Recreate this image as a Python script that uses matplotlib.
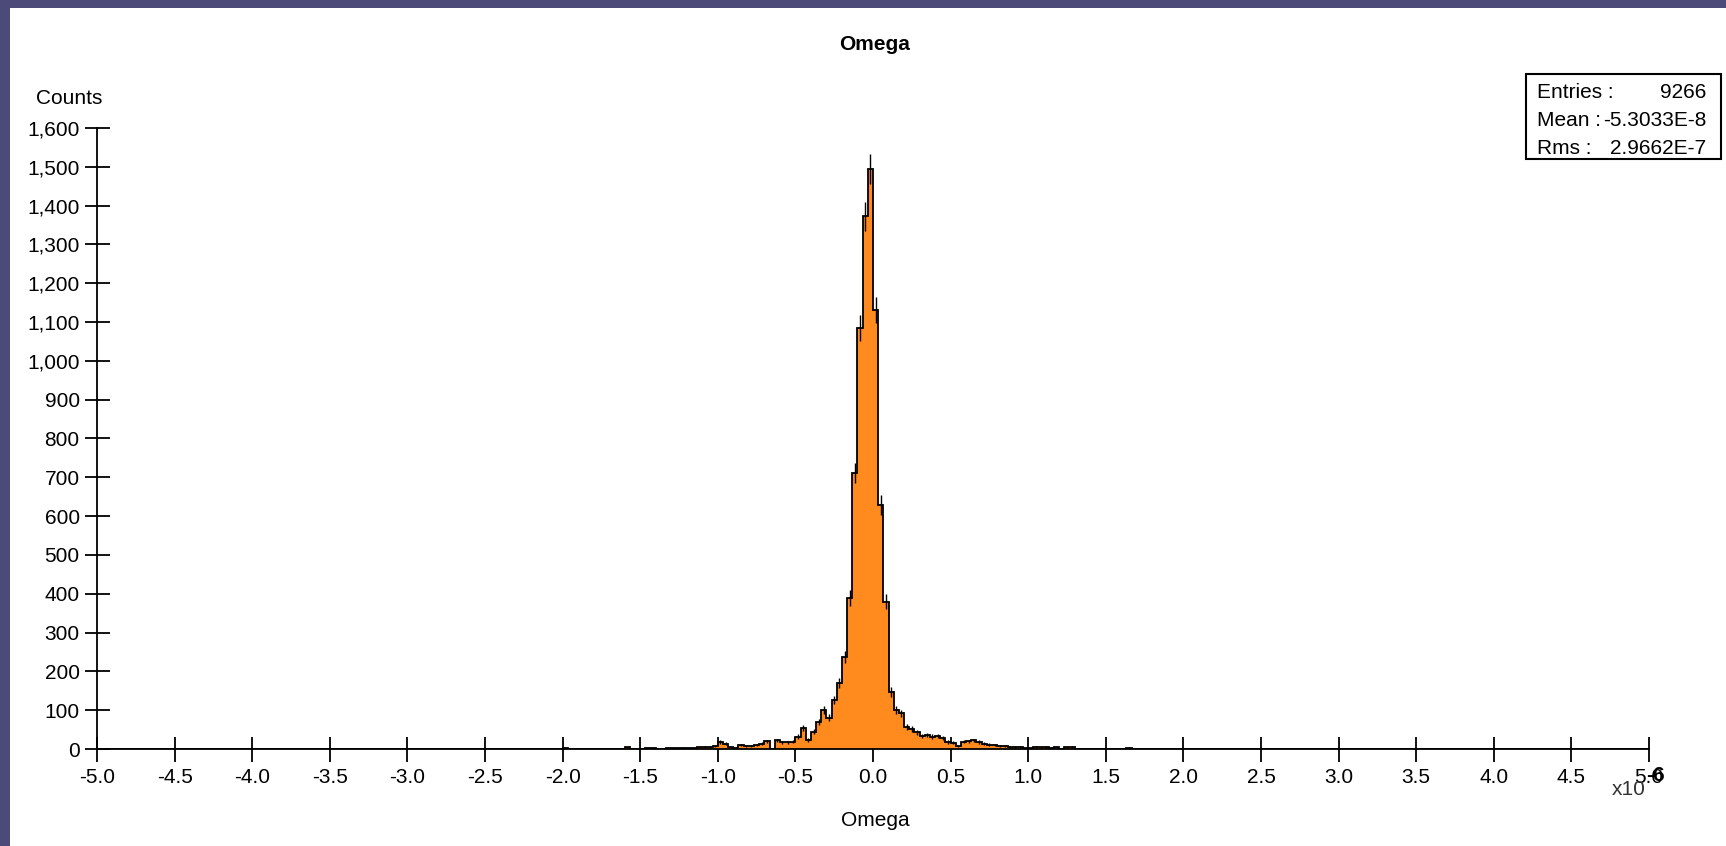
import numpy as np
import matplotlib
matplotlib.use("Agg")
import matplotlib.pyplot as plt
from matplotlib.patches import Rectangle
from matplotlib.ticker import FuncFormatter, MultipleLocator

plt.rcParams['font.family'] = ['Liberation Sans', 'DejaVu Sans']

# histogram binning (units of 1e-6): 300 bins over [-5, 5]
n_bins = 300
x_lo, x_hi = -5.0, 5.0
first_bin = 90   # index of first bin listed in `counts`

# bin contents from bin 90 (-2.0) up to bin 199 (~1.65)
counts = [
    2, 0, 0, 0, 0, 0, 0, 0, 0, 0, 0, 1,             # -2.00 .. -1.63
    4, 0, 1, 0, 3, 2, 0, 1, 2, 2, 2, 3, 2, 3,       # -1.60 .. -1.17
    4, 5, 6, 8, 18, 14, 4, 3, 10, 8, 8, 10, 14, 20, # -1.13 .. -0.70
    1, 22, 17, 17, 19, 32, 54, 23, 45, 70, 100, 80, # -0.67 .. -0.30
    126, 170, 237, 389, 711, 1085, 1372, 1494,      # -0.27 .. -0.03
    1131, 629, 379, 147, 100, 92, 57, 52, 43, 34,   #  0.00 ..  0.30
    36, 32, 34, 28, 18, 16, 8, 19, 20, 22, 18, 14,  #  0.33 ..  0.70
    11, 10, 8, 8, 6, 5, 5, 3, 2, 5, 4, 5, 3, 4,     #  0.73 ..  1.17
    1, 4, 5, 1, 0, 0, 0, 0, 0, 0, 0, 0, 0, 3,       #  1.20 ..  1.63
]

stats_labels = ["Entries :", "Mean :", "Rms :"]
stats_values = ["9266", "-5.3033E-8", "2.9662E-7"]

x_ticks_step = 0.5
y_ticks_step = 100
y_max = 1600

# full histogram array
edges = np.linspace(x_lo, x_hi, n_bins + 1)
h = np.zeros(n_bins)
h[first_bin:first_bin + len(counts)] = counts
centers = 0.5 * (edges[:-1] + edges[1:])

W, H = 1726, 846
fs = 15
fig = plt.figure(figsize=(W / 100, H / 100), dpi=100)
fig.patch.set_facecolor('#4b4a78')

# white plot panel, kept behind the axes
fig.patches.append(Rectangle((10 / W, 0), 1 - 10 / W, (H - 8) / H,
                             transform=fig.transFigure, facecolor='white',
                             edgecolor='none', zorder=-5))

ax = fig.add_axes([97 / W, (H - 749) / H, (1649 - 97) / W, (749 - 128) / H])
ax.set_facecolor('none')
ax.set_zorder(2)

orange = '#ff8b1e'
ax.stairs(h, edges, fill=True, color=orange, zorder=2)
ax.stairs(h, edges, color='black', lw=1.3, zorder=3)

# statistical error bars on filled bins
nz = h > 0
ax.errorbar(centers[nz], h[nz], yerr=np.sqrt(h[nz]), fmt='none',
            ecolor='black', elinewidth=1.0, zorder=4)

ax.set_xlim(x_lo, x_hi)
ax.set_ylim(0, y_max)

for s in ['top', 'right']:
    ax.spines[s].set_visible(False)
for s in ['left', 'bottom']:
    ax.spines[s].set_linewidth(1.3)
    ax.spines[s].set_zorder(5)

ax.xaxis.set_major_locator(MultipleLocator(x_ticks_step))
ax.yaxis.set_major_locator(MultipleLocator(y_ticks_step))
ax.xaxis.set_major_formatter(FuncFormatter(lambda v, p: f"{v:.1f}"))
ax.yaxis.set_major_formatter(FuncFormatter(lambda v, p: f"{int(round(v)):,}"))
ax.tick_params(axis='both', direction='inout', length=18, width=1.3,
               labelsize=fs, colors='black')
ax.tick_params(axis='y', pad=3.5)
ax.tick_params(axis='x', pad=5)

# titles and axis labels
fig.text(875 / W, 1 - 44 / H, "Omega", ha='center', va='center',
         fontsize=fs, fontweight='bold')
fig.text(875 / W, 1 - 820 / H, "Omega", ha='center', va='center', fontsize=fs)
fig.text(36 / W, 1 - 98 / H, "Counts", ha='left', va='center', fontsize=fs)

# exponent marker at the end of the x axis
fig.text(1612 / W, 1 - 789 / H, "x10", ha='left', va='center',
         fontsize=fs, color='#333333')
fig.text(1646 / W, 1 - 775 / H, "-6", ha='left', va='center',
         fontsize=fs, fontweight='bold')

# statistics box
bx0, bx1, by0, by1 = 1526, 1721, 74, 159
fig.patches.append(Rectangle((bx0 / W, 1 - by1 / H), (bx1 - bx0) / W,
                             (by1 - by0) / H, transform=fig.transFigure,
                             facecolor='white', edgecolor='black', lw=1.5,
                             zorder=6))
for i, (lab, val) in enumerate(zip(stats_labels, stats_values)):
    yy = 1 - (92 + i * 28.3) / H
    fig.text(1537 / W, yy, lab, ha='left', va='center', fontsize=fs, zorder=7)
    fig.text(1706 / W, yy, val, ha='right', va='center', fontsize=fs, zorder=7)

fig.savefig("out.png", dpi=100, facecolor=fig.get_facecolor())
